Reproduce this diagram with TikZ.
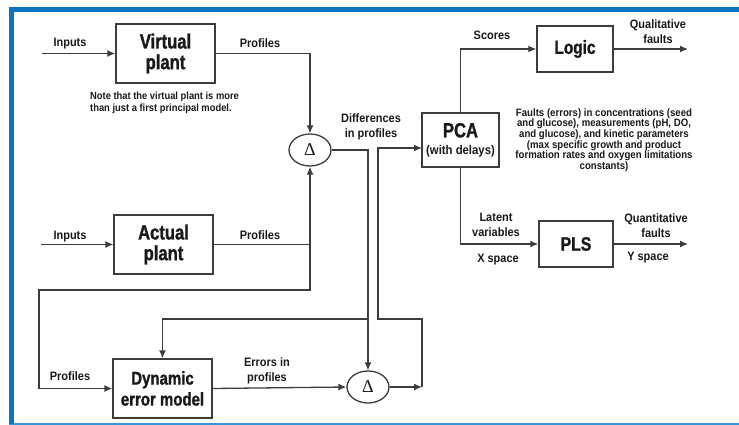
\documentclass[tikz,border=0pt]{standalone}
\usepackage{fontspec}
\usetikzlibrary{arrows.meta,shapes.geometric}
\newfontfamily\lblf{Liberation Sans Bold}[FakeStretch=0.9]
\newfontfamily\bigf{Liberation Sans Bold}[FakeStretch=0.81,FakeBold=1.2]
\newfontfamily\deltaf{Liberation Serif}
\definecolor{frameblue}{RGB}{12,116,190}
\definecolor{frameblueb}{RGB}{50,150,215}
\definecolor{ink}{RGB}{25,25,25}
\definecolor{wirec}{RGB}{60,60,60}
\begin{document}
\begin{tikzpicture}[x=1pt,y=-1pt,
  box/.style={draw=wirec, line width=1.3pt, fill=white, minimum width=99pt, minimum height=59pt,
    inner sep=0pt, align=center, text=ink, font=\bigf\fontsize{20.5}{20.7}\selectfont},
  delta/.style={ellipse, draw=wirec, line width=1.3pt, minimum width=42pt, minimum height=32pt,
    inner sep=0pt, text=ink, font=\deltaf\fontsize{18}{18}\selectfont},
  lbl/.style={text=ink, font=\lblf\fontsize{12.2}{15}\selectfont, align=center, inner sep=0pt},
  wire/.style={draw=wirec, line width=1.3pt},
  arr/.style={wire, -{Latex[length=8pt,width=7pt]}}
]
\useasboundingbox (0,0) rectangle (739,425);
% frame
\fill[frameblue] (8.5,7) rectangle (739,12.5);
\fill[frameblueb] (8.5,423.3) rectangle (739,425);
\fill[frameblue] (8.5,7) rectangle (14,424);

% boxes
\node[box] (vp) at (165.5,53.5) {Virtual\\plant};
\node[box] (ap) at (163.5,244.5) {Actual\\plant};
\node[box, font=\bigf\fontsize{18.5}{21}\selectfont] (dem) at (162.5,388.5) {Dynamic\\error model};
\node[delta] (d1) at (310,150) {Δ};
\node[delta] (d2) at (368,387) {Δ};
\node[box, minimum width=77pt, minimum height=54pt, font=\bigf\fontsize{20.5}{17}\selectfont] (pca) at (460.5,140)
  {PCA\\{\lblf\fontsize{12.6}{17}\selectfont (with delays)}};
\node[box, minimum width=76pt, minimum height=46pt, font=\bigf\fontsize{19}{20}\selectfont] (logic) at (575,49) {Logic};
\node[box, minimum width=74pt, minimum height=46pt, font=\bigf\fontsize{19.5}{20}\selectfont] (pls) at (576,244) {PLS};

% free ends
\coordinate (in1) at (42,53.5);
\coordinate (in2) at (41,244.5);
\coordinate (q1) at (688,49);
\coordinate (q2) at (688,244);
\coordinate (j1) at (310,244.5);
\coordinate (c1) at (310,290);
\coordinate (c2) at (39,290);
\coordinate (j2) at (368,319);
\coordinate (k1) at (422,387);
\coordinate (k2) at (422,319);
\coordinate (k3) at (378,319);
\coordinate (pcain) at (422,148);

% connectors
\draw[arr] (in1) -- (vp.west);
\draw[arr] (in2) -- (ap.west);
\draw[arr] (vp.east) -| (d1.north);
\draw[arr] (ap.east) -| (d1.south);
\draw[arr] (j1) -- (c1) -- (c2) |- (dem.west);
\draw[arr] (d1.east) -| (d2.north);
\draw[arr] (j2) -| (dem.north);
\draw[arr] (dem.east) -- (d2.west);
\draw[arr] (d2.east) -- (k1);
\draw[arr] (k1) -- (k2) -- (k3) |- (pcain);
\draw[arr] (pca.north) |- (logic.west);
\draw[arr] (logic.east) -- (q1);
\draw[arr] (pca.south) |- (pls.west);
\draw[arr] (pls.east) -- (q2);

% labels
\node[lbl] (lin1) at (70,44) {Inputs};
\node[lbl] (lpr1) at (260,43) {Profiles};
\node[lbl] (lin2) at (70,237) {Inputs};
\node[lbl] (lpr2) at (260,235) {Profiles};
\node[lbl] (lpr3) at (70,376) {Profiles};
\node[lbl] (lerr) at (267,370.5) {Errors in\\profiles};
\node[lbl] (ldiff) at (371,127) {Differences\\in profiles};
\node[lbl] (lsc) at (492,35) {Scores};
\node[lbl] (lqual) at (658,31.5) {Qualitative\\faults};
\node[lbl] (llat) at (496,225) {Latent\\variables};
\node[lbl] (lxs) at (498,260) {X space};
\node[lbl] (lquan) at (656,225.5) {Quantitative\\faults};
\node[lbl] (lys) at (648,258) {Y space};
\node[lbl, anchor=north west, align=left, font=\lblf\fontsize{10.4}{12}\selectfont] (note) at (90,92)
  {Note that the virtual plant is more\\than just a first principal model.};
\node[lbl, font=\lblf\fontsize{10.7}{10.7}\selectfont] (faults) at (604,140)
  {Faults (errors) in concentrations (seed\\and glucose), measurements (pH, DO,\\and glucose), and kinetic parameters\\(max specific growth and product\\formation rates and oxygen limitations\\constants)};
\end{tikzpicture}
\end{document}
